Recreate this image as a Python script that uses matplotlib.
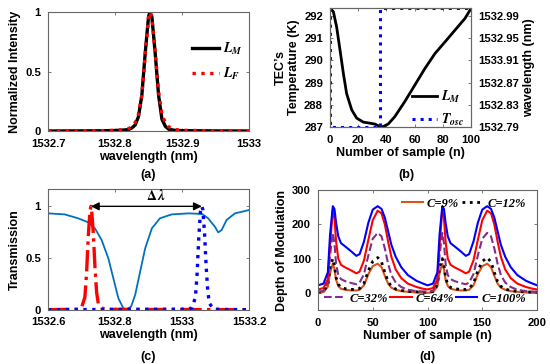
import matplotlib
matplotlib.use('Agg')
import matplotlib.pyplot as plt
from matplotlib.ticker import FormatStrFormatter

plt.rcParams['font.family'] = ['Liberation Sans', 'DejaVu Sans']
plt.rcParams['font.weight'] = 'bold'
plt.rcParams['axes.labelweight'] = 'bold'
plt.rcParams['mathtext.fontset'] = 'stix'

# ---- (a) normalized intensity
wl_a = [1532.70, 1532.78, 1532.80, 1532.81, 1532.82, 1532.825, 1532.83, 1532.835,
        1532.84, 1532.845, 1532.85, 1532.852, 1532.855, 1532.86, 1532.865, 1532.87,
        1532.875, 1532.88, 1532.89, 1532.90, 1532.95, 1533.00]
lm_a = [0, 0.002, 0.004, 0.007, 0.012, 0.025, 0.05, 0.12, 0.3, 0.65, 0.96, 1.0,
        0.96, 0.65, 0.3, 0.1, 0.04, 0.015, 0.005, 0.003, 0.001, 0]
lf_a = [0, 0.003, 0.006, 0.01, 0.02, 0.035, 0.07, 0.14, 0.3, 0.64, 0.95, 1.0,
        0.95, 0.66, 0.33, 0.14, 0.07, 0.035, 0.012, 0.006, 0.002, 0]

# ---- (b) TEC temperature
n_b = [0, 2.4, 4.7, 7.1, 9.5, 11.8, 15.4, 18.9, 23.6, 28.4, 31.9, 35.5, 37.8, 41.4,
       46, 53, 60.3, 67.4, 74.5, 81.6, 88.7, 95.7, 100]
lm_b = [292.35, 292.18, 291.5, 290.46, 289.4, 288.5, 287.77, 287.4, 287.22, 287.17,
        287.13, 287.02, 287.02, 287.14, 287.47, 288.14, 288.9, 289.64, 290.31, 290.83,
        291.36, 291.88, 292.33]
tosc_n = [0, 0, 35.5, 35.5, 100]
tosc_T = [292.35, 287, 287, 292.35, 292.35]
right_labels = ['1532.79', '1532.83', '1532.87', '1533.91', '1532.95', '1532.99']

# ---- (c) transmission
wl_c = [1532.60, 1532.65, 1532.69, 1532.72, 1532.74, 1532.76, 1532.78, 1532.795,
        1532.81, 1532.825, 1532.835, 1532.848, 1532.86, 1532.875, 1532.89, 1532.91,
        1532.934, 1532.969, 1533.02, 1533.06, 1533.078, 1533.098, 1533.108, 1533.118,
        1533.133, 1533.158, 1533.20]
filt_c = [0.932, 0.922, 0.884, 0.845, 0.787, 0.674, 0.497, 0.304, 0.11, 0.013, 0.005,
          0.03, 0.142, 0.368, 0.594, 0.787, 0.884, 0.922, 0.932, 0.926, 0.884, 0.803,
          0.748, 0.77, 0.868, 0.932, 0.964]
wl_red = [1532.60, 1532.69, 1532.70, 1532.71, 1532.715, 1532.72, 1532.725, 1532.728,
          1532.73, 1532.735, 1532.74, 1532.745, 1532.75, 1532.76, 1532.78, 1533.20]
red_c = [0, 0.005, 0.02, 0.12, 0.35, 0.7, 0.95, 1.0, 0.97, 0.75, 0.42, 0.17, 0.06,
         0.015, 0.003, 0]
wl_blue = [1532.60, 1533.02, 1533.03, 1533.04, 1533.045, 1533.05, 1533.055, 1533.059,
           1533.062, 1533.067, 1533.072, 1533.077, 1533.082, 1533.092, 1533.11, 1533.20]
blue_c = [0, 0.005, 0.02, 0.12, 0.35, 0.7, 0.95, 1.0, 0.97, 0.75, 0.42, 0.17, 0.06,
          0.015, 0.003, 0]

# ---- (d) depth of modulation
n_d = [0, 5, 9, 11, 13.5, 15, 16.5, 18.5, 21, 25, 30, 35, 38, 42, 46, 50, 54.5, 58,
       61, 64, 67, 71, 76, 82, 90, 96,
       100, 105, 109, 111, 113.5, 115, 116.5, 118.5, 121, 125, 130, 135, 138, 142, 146,
       150, 154.5, 158, 161, 164, 167, 171, 176, 182, 190, 196, 200]
c100 = [22, 27, 60, 170, 253, 245, 205, 165, 145, 135, 122, 108, 113, 150, 205, 243,
        253, 245, 220, 180, 140, 105, 75, 52, 35, 27,
        22, 27, 60, 170, 253, 245, 205, 165, 145, 135, 122, 108, 113, 150, 205, 243,
        253, 245, 220, 180, 140, 105, 75, 52, 35, 27, 22]
c64 = [10, 14, 40, 140, 240, 220, 150, 100, 82, 74, 66, 57, 62, 95, 155, 212, 240,
       232, 200, 150, 105, 68, 43, 27, 17, 12,
       10, 14, 40, 140, 240, 220, 150, 100, 82, 74, 66, 57, 62, 95, 155, 212, 240,
       232, 200, 150, 105, 68, 43, 27, 17, 12, 10]
c32 = [3, 6, 30, 110, 175, 145, 85, 52, 40, 34, 29, 25, 30, 55, 110, 158, 175, 165,
       130, 85, 52, 30, 17, 9, 5, 4,
       3, 6, 30, 110, 175, 145, 85, 52, 40, 34, 29, 25, 30, 55, 110, 158, 175, 165,
       130, 85, 52, 30, 17, 9, 5, 4, 3]
c12 = [2, 4, 25, 75, 100, 80, 45, 25, 16, 12, 10, 10, 13, 28, 65, 92, 103, 90, 60,
       33, 19, 11, 7, 4, 3, 2,
       2, 4, 25, 75, 100, 80, 45, 25, 16, 12, 10, 10, 13, 28, 65, 92, 103, 90, 60,
       33, 19, 11, 7, 4, 3, 2, 2]
c9 = [0, 2, 18, 58, 85, 70, 38, 20, 12, 9, 7, 7, 9, 22, 55, 78, 85, 75, 50, 27, 15,
      9, 5, 3, 1, 0,
      0, 2, 18, 58, 85, 70, 38, 20, 12, 9, 7, 7, 9, 22, 55, 78, 85, 75, 50, 27, 15,
      9, 5, 3, 1, 0, 0]

fig = plt.figure(figsize=(5.5, 3.64), dpi=100)
ax_a = fig.add_axes([0.0873, 0.6401, 0.3655, 0.3269])
ax_b = fig.add_axes([0.6, 0.6511, 0.2564, 0.3269])
ax_c = fig.add_axes([0.0873, 0.1492, 0.3655, 0.3308])
ax_d = fig.add_axes([0.5782, 0.1484, 0.3982, 0.3294])


def style(ax, right=True):
    for s in ax.spines.values():
        s.set_color('#666666')
        s.set_linewidth(0.8)
    ax.tick_params(direction='in', length=2.5, width=0.6, color='#666666',
                   labelsize=8.1, top=True, right=right)
    ax.tick_params(axis='x', pad=5.5)
    ax.tick_params(axis='y', pad=5)
    for t in ax.get_xticklabels() + ax.get_yticklabels():
        t.set_fontweight('bold')


leg_font = {'family': 'Liberation Serif', 'size': 10}
lab = 9

# (a)
ax_a.plot(wl_a, lm_a, color='k', lw=2.4, label='$L_M$')
ax_a.plot(wl_a, lf_a, color='red', lw=2.4, ls=':', label='$L_F$')
ax_a.set_xlim(1532.7, 1533.0)
ax_a.set_ylim(0, 1)
ax_a.set_xticks([1532.7, 1532.8, 1532.9, 1533.0])
ax_a.set_yticks([0, 0.5, 1])
ax_a.xaxis.set_major_formatter(FormatStrFormatter('%g'))
ax_a.yaxis.set_major_formatter(FormatStrFormatter('%g'))
ax_a.set_xlabel('wavelength (nm)', fontsize=lab, labelpad=1.5)
ax_a.set_ylabel('Normalized Intensity', fontsize=lab, labelpad=3)
style(ax_a)
ax_a.legend(loc='upper right', bbox_to_anchor=(1.03, 0.86), frameon=False,
            prop=leg_font, handlelength=1.9, handletextpad=0.3, labelspacing=0.6)

# (b)
ax_b.plot(n_b, lm_b, color='k', lw=2.0, label='$L_M$')
ax_b.plot(tosc_n, tosc_T, color='blue', lw=2.2, ls=':', label='$T_{osc}$')
ax_b.set_xlim(0, 100)
ax_b.set_ylim(287, 292.35)
ax_b.set_xticks([0, 20, 40, 60, 80, 100])
ax_b.set_yticks([287, 288, 289, 290, 291, 292])
ax_b.set_xlabel('Number of sample (n)', fontsize=lab, labelpad=1.5)
ax_b.set_ylabel("TEC\u2019s\nTemperature (K)", fontsize=lab, labelpad=3, linespacing=1.1)
style(ax_b, right=False)
ax_b2 = ax_b.twinx()
ax_b2.set_ylim(287, 292.35)
ax_b2.set_yticks([287, 288, 289, 290, 291, 292])
ax_b2.set_yticklabels(right_labels)
ax_b2.set_ylabel('wavelength (nm)', fontsize=lab, labelpad=3)
style(ax_b2)
ax_b.legend(loc='lower right', bbox_to_anchor=(1.04, -0.11), frameon=False,
            prop=leg_font, handlelength=1.8, handletextpad=0.3, labelspacing=0.45)

# (c)
ax_c.plot(wl_c, filt_c, color='#0072BD', lw=1.3)
ax_c.plot(wl_red, red_c, color='red', lw=2.4, ls='-.')
ax_c.plot(wl_blue, blue_c, color='blue', lw=2.4, ls=':')
ax_c.annotate('', xy=(1532.728, 1.0), xytext=(1533.059, 1.0),
              arrowprops=dict(arrowstyle='<|-|>', color='k', lw=1.0,
                              mutation_scale=12, shrinkA=0, shrinkB=0))
ax_c.text(1532.924, 1.035, r'$\Delta\,\lambda$', ha='center', va='bottom', fontsize=10)
ax_c.set_xlim(1532.6, 1533.2)
ax_c.set_ylim(0, 1.165)
ax_c.set_xticks([1532.6, 1532.8, 1533.0, 1533.2])
ax_c.set_yticks([0, 0.5, 1])
ax_c.xaxis.set_major_formatter(FormatStrFormatter('%g'))
ax_c.yaxis.set_major_formatter(FormatStrFormatter('%g'))
ax_c.set_xlabel('wavelength (nm)', fontsize=lab, labelpad=1.5)
ax_c.set_ylabel('Transmission', fontsize=lab, labelpad=3)
style(ax_c)

# (d)
l9, = ax_d.plot(n_d, c9, color='#D95319', lw=1.5, label='C=9%')
l12, = ax_d.plot(n_d, c12, color='k', lw=2.0, ls=':', label='C=12%')
l32, = ax_d.plot(n_d, c32, color='#7E2F8E', lw=1.5, ls='--', label='C=32%')
l64, = ax_d.plot(n_d, c64, color='red', lw=1.5, label='C=64%')
l100, = ax_d.plot(n_d, c100, color='blue', lw=1.5, label='C=100%')
ax_d.set_xlim(0, 200)
ax_d.set_ylim(-50, 300)
ax_d.set_xticks([0, 50, 100, 150, 200])
ax_d.set_yticks([0, 100, 200, 300])
ax_d.set_xlabel('Number of sample (n)', fontsize=lab, labelpad=1.5)
ax_d.set_ylabel('Depth of Modulation', fontsize=lab, labelpad=3)
style(ax_d)
leg_d_font = {'family': 'Liberation Serif', 'style': 'italic', 'weight': 'bold', 'size': 9}
leg1 = ax_d.legend(handles=[l9, l12], loc='upper right', bbox_to_anchor=(1.0, 1.03),
                   ncol=2, frameon=False, prop=leg_d_font, handlelength=1.7,
                   handletextpad=0.3, columnspacing=0.3)
ax_d.add_artist(leg1)
ax_d.legend(handles=[l32, l64, l100], loc='lower right', bbox_to_anchor=(1.0, -0.05),
            ncol=3, frameon=False, prop=leg_d_font, handlelength=1.7,
            handletextpad=0.3, columnspacing=0.2)

fig.text(148 / 550, 1 - 175 / 364, '(a)', ha='center', va='center', fontsize=9)
fig.text(406 / 550, 1 - 175 / 364, '(b)', ha='center', va='center', fontsize=9)
fig.text(148 / 550, 1 - 357 / 364, '(c)', ha='center', va='center', fontsize=9)
fig.text(427 / 550, 1 - 357 / 364, '(d)', ha='center', va='center', fontsize=9)

fig.savefig('out.png', dpi=100)
